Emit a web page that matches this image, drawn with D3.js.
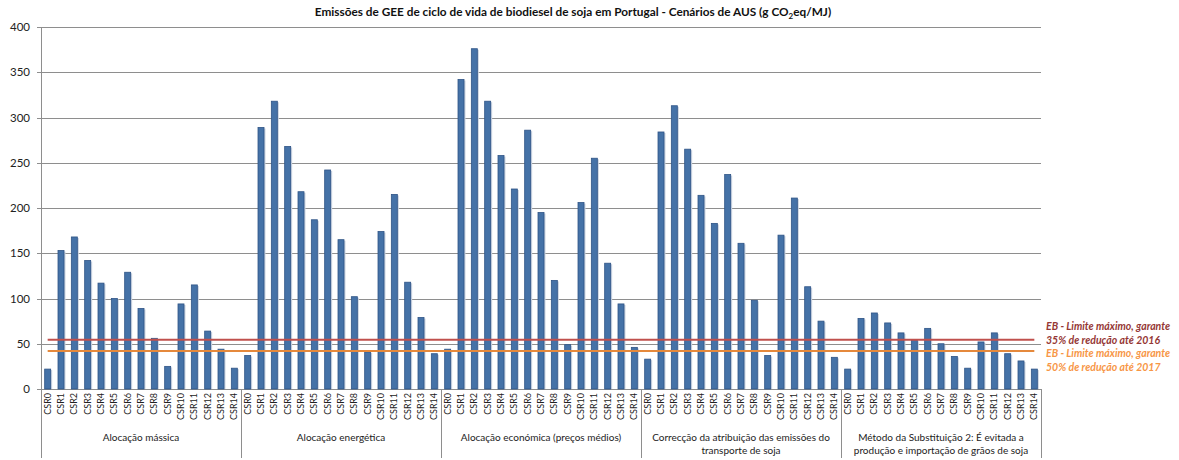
<!DOCTYPE html>
<html>
<head>
<meta charset="utf-8">
<script src="https://cdn.jsdelivr.net/npm/d3@7"></script>
<style>
  body { margin: 0; background: #fff; }
  text { font-family: Lato, "Open Sans", sans-serif; }
</style>
</head>
<body>
<script>
// data
var scenarios = ["CSR0","CSR1","CSR2","CSR3","CSR4","CSR5","CSR6","CSR7","CSR8","CSR9","CSR10","CSR11","CSR12","CSR13","CSR14"];
var groupNames = [
  ["Alocação mássica"],
  ["Alocação energética"],
  ["Alocação económica (preços médios)"],
  ["Correcção da atribuição das emissões do", "transporte de soja"],
  ["Método da Substituição 2: É evitada a", "produção e importação de grãos de soja"]
];
var alocMassica    = [22, 153, 168, 142, 117, 100, 129, 89, 56, 25, 94, 115, 64, 44, 23];
var alocEnergetica = [37, 289, 318, 268, 218, 187, 242, 165, 102, 41, 174, 215, 118, 79, 39];
var alocEconomica  = [44, 342, 376, 318, 258, 221, 286, 195, 120, 49, 206, 255, 139, 94, 46];
var correccao      = [33, 284, 313, 265, 214, 183, 237, 161, 98, 37, 170, 211, 113, 75, 35];
var substituicao   = [22, 78, 84, 73, 62, 54, 67, 50, 36, 23, 52, 62, 39, 31, 22];
var limite2016 = 54.5;
var limite2017 = 42;
var yTicks = [0, 50, 100, 150, 200, 250, 300, 350, 400];
var limitLabels2016 = ["EB - Limite máximo, garante", "35% de redução até 2016"];
var limitLabels2017 = ["EB - Limite máximo, garante", "50% de redução até 2017"];

var series = [alocMassica, alocEnergetica, alocEconomica, correccao, substituicao];

// flatten into bars
var bars = [];
series.forEach(function(vals, g){
    vals.forEach(function(v, i){
        bars.push({ key: g + "|" + scenarios[i], label: scenarios[i], group: g, value: v });
    });
});

var W = 1179, H = 460;
var plotLeft = 41, plotRight = 1041, plotTop = 27, plotBottom = 389;

var svg = d3.select("body").append("svg").attr("width", W).attr("height", H);

var x = d3.scaleBand().domain(bars.map(function(d){ return d.key; }))
    .range([plotLeft, plotRight]).paddingInner(0.55).paddingOuter(0.275);
var y = d3.scaleLinear().domain([0, 400]).range([plotBottom, plotTop]);

// gridlines
svg.append("g").selectAll("line").data(yTicks.slice(1)).enter().append("line")
    .attr("x1", plotLeft).attr("x2", plotRight)
    .attr("y1", function(d){ return Math.round(y(d)) + 0.5; })
    .attr("y2", function(d){ return Math.round(y(d)) + 0.5; })
    .attr("stroke", "#8e8e8e").attr("stroke-width", 1);

// y axis labels
svg.append("g").selectAll("text").data(yTicks).enter().append("text")
    .attr("x", 30).attr("y", function(d){ return y(d) + 4; })
    .attr("text-anchor", "end").attr("font-size", "11.5px").attr("fill", "#222")
    .text(function(d){ return d; });

// axis lines
svg.append("line").attr("x1", plotLeft + 0.5).attr("x2", plotLeft + 0.5).attr("y1", plotTop).attr("y2", plotBottom)
    .attr("stroke", "#8e8e8e");
svg.append("line").attr("x1", plotLeft).attr("x2", plotRight).attr("y1", plotBottom + 0.5).attr("y2", plotBottom + 0.5)
    .attr("stroke", "#8e8e8e");
svg.append("g").selectAll("line").data(yTicks).enter().append("line")
    .attr("x1", plotLeft - 4).attr("x2", plotLeft)
    .attr("y1", function(d){ return Math.round(y(d)) + 0.5; })
    .attr("y2", function(d){ return Math.round(y(d)) + 0.5; })
    .attr("stroke", "#8e8e8e");

// bar shadows
svg.append("g").selectAll("rect").data(bars).enter().append("rect")
    .attr("x", function(d){ return x(d.key) + 1.5; })
    .attr("y", function(d){ return y(d.value) + 1; })
    .attr("width", x.bandwidth())
    .attr("height", function(d){ return plotBottom - y(d.value) - 1; })
    .attr("fill", "#c9d3e0");

// bars
svg.append("g").selectAll("rect").data(bars).enter().append("rect")
    .attr("x", function(d){ return x(d.key); })
    .attr("y", function(d){ return y(d.value); })
    .attr("width", x.bandwidth())
    .attr("height", function(d){ return plotBottom - y(d.value); })
    .attr("fill", "#4572a7").attr("stroke", "#2f5486").attr("stroke-width", 0.8);

// limit lines (line series across all categories)
var firstKey = bars[0].key, lastKey = bars[bars.length - 1].key;
function limitLine(v, color){
    svg.append("line")
        .attr("x1", x(firstKey) + x.bandwidth() / 2)
        .attr("x2", x(lastKey) + x.bandwidth() / 2)
        .attr("y1", y(v)).attr("y2", y(v))
        .attr("stroke", color).attr("stroke-width", 2);
}
limitLine(limite2016, "#c0504d");
limitLine(limite2017, "#e5893c");

// limit labels
function limitLabel(lines, y0, color){
    svg.append("g").selectAll("text").data(lines).enter().append("text")
        .attr("x", 1046).attr("y", function(d, i){ return y0 + i * 13.5; })
        .attr("font-size", "10.5px").attr("font-weight", "bold").attr("font-style", "italic")
        .attr("fill", color).text(function(d){ return d; });
}
limitLabel(limitLabels2016, 330, "#953735");
limitLabel(limitLabels2017, 357, "#f79646");

// category labels (rotated)
svg.append("g").selectAll("text").data(bars).enter().append("text")
    .attr("transform", function(d){
        return "translate(" + (x(d.key) + x.bandwidth() / 2 + 3) + "," + 393 + ") rotate(-90)";
    })
    .attr("text-anchor", "end").attr("font-size", "9px").attr("fill", "#222")
    .text(function(d){ return d.label; });

// group separators
var groupEdges = d3.range(groupNames.length + 1).map(function(g){
    return g < groupNames.length ? x(g + "|" + scenarios[0]) - x.step() * x.paddingOuter() : plotRight;
});
svg.append("g").selectAll("line").data(groupEdges).enter().append("line")
    .attr("x1", function(d){ return Math.round(d) + 0.5; })
    .attr("x2", function(d){ return Math.round(d) + 0.5; })
    .attr("y1", plotBottom).attr("y2", 458)
    .attr("stroke", "#8e8e8e");

// group labels
var gl = svg.append("g").selectAll("text").data(groupNames).enter().append("text")
    .attr("x", function(d, g){ return (groupEdges[g] + groupEdges[g + 1]) / 2; })
    .attr("y", 441)
    .attr("text-anchor", "middle").attr("font-size", "10px").attr("fill", "#222");
gl.selectAll("tspan").data(function(d){ return d; }).enter().append("tspan")
    .attr("x", function(){ return d3.select(this.parentNode).attr("x"); })
    .attr("dy", function(d, i){ return i === 0 ? 0 : 13; })
    .text(function(d){ return d; });

// title
var title = svg.append("text").attr("x", 573).attr("y", 16)
    .attr("text-anchor", "middle").attr("font-size", "11.8px").attr("font-weight", "bold").attr("fill", "#111");
title.append("tspan").text("Emissões de GEE de ciclo de vida de biodiesel de soja em Portugal - Cenários de AUS (g CO");
title.append("tspan").attr("font-size", "8px").attr("dy", 3).text("2");
title.append("tspan").attr("dy", -3).text("eq/MJ)");
</script>
</body>
</html>
